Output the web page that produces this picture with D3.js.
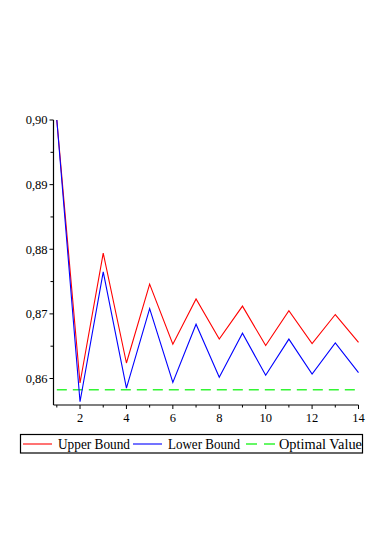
<!DOCTYPE html>
<html>
<head>
<meta charset="utf-8">
<script src="https://cdn.jsdelivr.net/npm/d3@7"></script>
<style>
  body { margin: 0; background: #fff; }
  svg text { font-family: "Liberation Serif", "Times New Roman", "DejaVu Serif", serif; }
</style>
</head>
<body>
<div id="chart"></div>
<script>
// iterations 1..14
var iterations = [1,2,3,4,5,6,7,8,9,10,11,12,13,14];
var upperBound = [0.9000,0.8593,0.8794,0.8624,0.8746,0.8653,0.8723,0.8661,0.8712,0.8651,0.8705,0.8654,0.8699,0.8656];
var lowerBound = [0.9000,0.8564,0.8765,0.8585,0.8708,0.8594,0.8684,0.8602,0.8670,0.8605,0.8661,0.8607,0.8655,0.8609];
var optimalValue = 0.85825;
var yTicks = [0.86,0.87,0.88,0.89,0.90];
var xTicks = [2,4,6,8,10,12,14];
var legendLabels = ["Upper Bound","Lower Bound","Optimal Value"];

var width = 382, height = 540;

var svg = d3.select("#chart").append("svg")
    .attr("width", width)
    .attr("height", height);

var x = d3.scaleLinear().domain([0.857, 14]).range([53.5, 358.5]);
var y = d3.scaleLinear().domain([0.8559, 0.90]).range([405, 120]);

// y axis
var yAxis = svg.append("g").attr("transform", "translate(" + x.range()[0] + ",0)");
yAxis.append("line")
    .attr("y1", y.range()[0]).attr("y2", y.range()[1])
    .attr("stroke", "#000").attr("stroke-width", 1.2);
var yMinor = d3.range(0.865, 0.9, 0.01);
yAxis.selectAll("line.minor").data(yMinor).enter().append("line")
    .attr("class", "minor")
    .attr("x1", -3).attr("x2", 0)
    .attr("y1", function(d){ return y(d); }).attr("y2", function(d){ return y(d); })
    .attr("stroke", "#000");
yAxis.selectAll("line.major").data(yTicks).enter().append("line")
    .attr("class", "major")
    .attr("x1", -4).attr("x2", 0)
    .attr("y1", function(d){ return y(d); }).attr("y2", function(d){ return y(d); })
    .attr("stroke", "#000");
yAxis.selectAll("text").data(yTicks).enter().append("text")
    .attr("x", -6)
    .attr("y", function(d){ return y(d); })
    .attr("dy", "0.35em")
    .attr("text-anchor", "end")
    .style("font-size", "12.5px")
    .text(function(d){ return d3.format(".2f")(d).replace(".", ","); });

// x axis
var xAxis = svg.append("g").attr("transform", "translate(0," + y.range()[0] + ")");
xAxis.append("line")
    .attr("x1", x.range()[0]).attr("x2", x.range()[1])
    .attr("stroke", "#000").attr("stroke-width", 1.2);
var xMinor = [1,3,5,7,9,11,13];
xAxis.selectAll("line.minor").data(xMinor).enter().append("line")
    .attr("class", "minor")
    .attr("x1", function(d){ return x(d); }).attr("x2", function(d){ return x(d); })
    .attr("y1", 0).attr("y2", 2.5)
    .attr("stroke", "#000");
xAxis.selectAll("line.major").data(xTicks).enter().append("line")
    .attr("class", "major")
    .attr("x1", function(d){ return x(d); }).attr("x2", function(d){ return x(d); })
    .attr("y1", 0).attr("y2", 4)
    .attr("stroke", "#000");
xAxis.selectAll("text").data(xTicks).enter().append("text")
    .attr("x", function(d){ return x(d); })
    .attr("y", 17)
    .attr("text-anchor", "middle")
    .style("font-size", "12.5px")
    .text(function(d){ return d; });

// lines
var line = d3.line()
    .x(function(d, i){ return x(iterations[i]); })
    .y(function(d){ return y(d); });

var green = "#33f533";

svg.append("line")
    .attr("x1", x(1)).attr("x2", x(13.9))
    .attr("y1", y(optimalValue)).attr("y2", y(optimalValue))
    .attr("stroke", green)
    .attr("stroke-width", 1.5)
    .attr("stroke-dasharray", "10,6");

svg.append("path").datum(upperBound)
    .attr("d", line)
    .attr("fill", "none")
    .attr("stroke", "#ff0000")
    .attr("stroke-width", 1.1);

svg.append("path").datum(lowerBound)
    .attr("d", line)
    .attr("fill", "none")
    .attr("stroke", "#0000ff")
    .attr("stroke-width", 1.1);

// legend
var legendColors = ["#ff0000","#0000ff",green];
var lineStart = [23, 133, 246];
var lineLen = [29, 29, 31];
var textStart = [58, 168, 279];
var textLen = [72, 72, 83];

var legend = svg.append("g").attr("class", "legend");
legend.append("rect")
    .attr("x", 20.5).attr("y", 434.5)
    .attr("width", 342).attr("height", 18.5)
    .attr("fill", "#fff").attr("stroke", "#000").attr("stroke-width", 1.2);

var ly = 444;
legendLabels.forEach(function(lab, i){
  legend.append("line")
      .attr("x1", lineStart[i]).attr("x2", lineStart[i] + lineLen[i])
      .attr("y1", ly).attr("y2", ly)
      .attr("stroke", legendColors[i])
      .attr("stroke-width", i == 2 ? 1.5 : 1.1)
      .attr("stroke-dasharray", i == 2 ? "11,7" : null);
  legend.append("text")
      .attr("x", textStart[i])
      .attr("y", ly + 5)
      .attr("textLength", textLen[i])
      .attr("lengthAdjust", "spacingAndGlyphs")
      .style("font-size", "14px")
      .text(lab);
});
</script>
</body>
</html>
